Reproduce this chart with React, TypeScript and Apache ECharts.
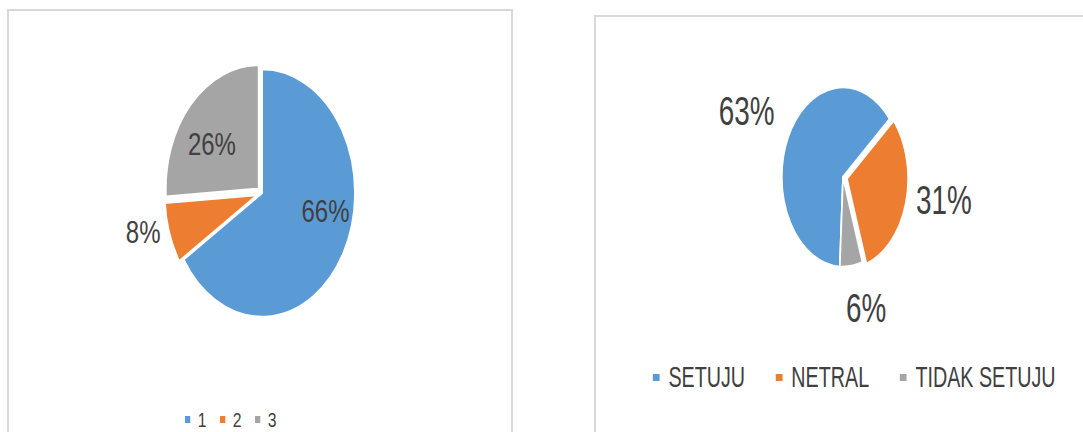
import React, { useEffect, useRef } from "react";
import * as echarts from "echarts";

// ---- data ----
const LEFT_CATEGORIES = ["1", "2", "3"];
const LEFT_VALUES = [66, 8, 26];
const RIGHT_CATEGORIES = ["SETUJU", "NETRAL", "TIDAK SETUJU"];
const RIGHT_VALUES = [63, 31, 6];
const COLORS = ["#5B9BD5", "#ED7D31", "#A5A5A5"];

// ---- style tweaks (label nudges, exploded slices) ----
const LEFT_LABEL_SHIFT = [
  [27.7, -13.9],
  [-91, 17],
  [-15.1, -1],
];
const LEFT_EXPLODED = [false, true, true];
const RIGHT_LABEL_SHIFT = [
  [-98.8, -45.3],
  [96.5, 8.3],
  [27.7, 83],
];
const RIGHT_EXPLODED = [false, true, false];

const FONT = "'Liberation Sans', Arial, sans-serif";
const TEXT_COLOR = "#404040";

function buildOption(
  cats: string[],
  vals: number[],
  exploded: boolean[],
  shifts: number[][],
  center: [number, number],
  radius: number,
  startAngle: number,
  labelSize: number,
  legend: any
) {
  return {
    animation: false,
    color: COLORS,
    legend: {
      data: cats,
      orient: "horizontal",
      icon: "rect",
      left: legend.left,
      top: legend.top,
      itemWidth: legend.itemWidth,
      itemHeight: legend.itemHeight,
      itemGap: legend.itemGap,
      selectedMode: false,
      textStyle: {
        fontFamily: FONT,
        color: TEXT_COLOR,
        fontSize: legend.fontSize,
        padding: legend.textPad,
      },
    },
    series: [
      {
        type: "pie",
        center,
        radius,
        startAngle,
        clockwise: true,
        avoidLabelOverlap: false,
        selectedMode: "multiple",
        selectedOffset: 6,
        itemStyle: { borderColor: "#ffffff", borderWidth: 2.5 },
        label: {
          show: true,
          position: "inside",
          fontFamily: FONT,
          fontSize: labelSize,
          color: TEXT_COLOR,
          formatter: (p: any) => Math.round(p.percent) + "%",
        },
        labelLine: { show: false },
        labelLayout: (p: any) => ({
          dx: shifts[p.dataIndex][0],
          dy: shifts[p.dataIndex][1],
        }),
        emphasis: { disabled: true },
        data: cats.map((c, i) => ({
          name: c,
          value: vals[i],
          selected: exploded[i],
        })),
      },
    ],
  };
}

export default function App() {
  const ref1 = useRef<HTMLDivElement>(null);
  const ref2 = useRef<HTMLDivElement>(null);

  useEffect(() => {
    const c1 = echarts.init(ref1.current!, undefined, { renderer: "svg" });
    c1.setOption(
      buildOption(
        LEFT_CATEGORIES,
        LEFT_VALUES,
        LEFT_EXPLODED,
        LEFT_LABEL_SHIFT,
        [338.7, 193],
        124,
        90,
        32,
        {
          left: 229,
          top: 404,
          itemWidth: 9,
          itemHeight: 9,
          itemGap: 16,
          fontSize: 21,
          textPad: [0, 0, 0, 4],
        }
      )
    );
    const c2 = echarts.init(ref2.current!, undefined, { renderer: "svg" });
    c2.setOption(
      buildOption(
        RIGHT_CATEGORIES,
        RIGHT_VALUES,
        RIGHT_EXPLODED,
        RIGHT_LABEL_SHIFT,
        [364.7, 177],
        90,
        267,
        41,
        {
          left: 78,
          top: 358,
          itemWidth: 12,
          itemHeight: 9,
          itemGap: 43,
          fontSize: 29,
          textPad: [0, 0, 0, 7],
        }
      )
    );
    return () => {
      c1.dispose();
      c2.dispose();
    };
  }, []);

  return (
    <div
      style={{
        position: "fixed",
        left: 0,
        top: 0,
        width: 1083,
        height: 432,
        overflow: "hidden",
        background: "#ffffff",
      }}
    >
      <div
        style={{
          position: "absolute",
          left: 7,
          top: 9,
          width: 506,
          height: 450,
          boxSizing: "border-box",
          borderLeft: "2px solid #d9d9d9",
          borderTop: "2px solid #d9d9d9",
          borderRight: "2px solid #d9d9d9",
        }}
      />
      <div
        style={{
          position: "absolute",
          left: 594,
          top: 15,
          width: 520,
          height: 450,
          boxSizing: "border-box",
          borderLeft: "2px solid #d9d9d9",
          borderTop: "2px solid #d9d9d9",
        }}
      />
      <div
        ref={ref1}
        style={{
          position: "absolute",
          left: 8,
          top: 0,
          width: 673,
          height: 432,
          transform: "scaleX(0.75)",
          transformOrigin: "0 0",
        }}
      />
      <div
        ref={ref2}
        style={{
          position: "absolute",
          left: 595,
          top: 0,
          width: 718,
          height: 432,
          transform: "scaleX(0.68)",
          transformOrigin: "0 0",
        }}
      />
    </div>
  );
}
